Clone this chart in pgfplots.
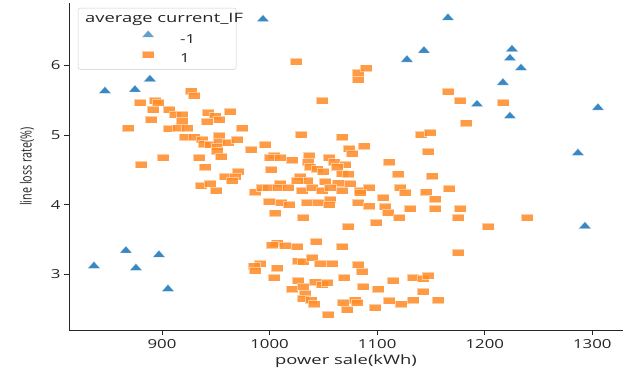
\documentclass[border=0pt]{standalone}
\usepackage{pgfplots}
\pgfplotsset{compat=1.18}
\usepackage{fontspec}
\setmainfont{Open Sans}[FakeStretch=1.35]
\newfontfamily\wfont{Open Sans}[FakeStretch=1.42]
\newfontfamily\ylfont{Open Sans}[FakeStretch=0.7]
\definecolor{tri}{HTML}{3A88C2}
\definecolor{sq}{HTML}{FF8A24}
\definecolor{ink}{HTML}{262626}
\begin{document}
\begin{tikzpicture}
\path[use as bounding box] (0,0) rectangle (627bp,372bp);
\begin{axis}[
  at={(69bp,42bp)}, anchor=south west,
  scale only axis, width=554bp, height=327bp,
  xmin=813.6, xmax=1328.5, ymin=2.202, ymax=6.894,
  axis x line*=bottom, axis y line*=left,
  axis line style={ink, line width=0.8bp},
  tick align=outside, major tick length=5bp,
  tick style={ink, line width=0.8bp},
  xtick={900,1000,1100,1200,1300}, ytick={3,4,5,6},
  minor tick num=0,
  /pgf/number format/assume math mode=true,
  /pgf/number format/1000 sep={},
  every tick label/.append style={font=\fontsize{12.5}{14}\selectfont, text=ink},
  xticklabel style={yshift=-1bp},
  xlabel={\wfont power sale(kWh)}, ylabel={{\ylfont line loss rate(\%)}},
  xlabel style={at={(axis description cs:0.5,-0.0948)}, anchor=center, font=\fontsize{13}{15}\selectfont, text=ink},
  ylabel style={at={(axis description cs:-0.076,0.5)}, anchor=center, rotate=0, font=\fontsize{15.5}{17}\selectfont, text=ink},
  legend style={at={(axis description cs:0.0162,0.985)}, anchor=north west,
    draw=black!20, rounded corners=2bp, fill=white, fill opacity=0.8, text opacity=1,
    inner xsep=3bp, inner ysep=3bp, row sep=4.5bp,
    font=\fontsize{12.5}{14}\selectfont, text=ink,
    nodes={inner sep=2bp}},
  legend cell align=left,
  legend image code/.code={\pgfpathmoveto{\pgfqpoint{0bp}{0bp}}\pgfpathlineto{\pgfqpoint{97bp}{0bp}}\pgfusepath{}\draw[#1,only marks] plot coordinates {(67bp,4.5bp)};},
]
\addlegendimage{empty legend}
\addlegendentry{\hspace*{-95bp}{\wfont\fontsize{13}{15}\selectfont average current\_IF}\hspace*{-12bp}}
\addplot[only marks, mark=triangle*, mark size=4.6bp, mark options={xscale=1.55, fill=tri, draw=white, line width=0.3bp, draw opacity=0.6}] table {
x y
847.0 5.63
874.9 5.65
888.8 5.80
993.9 6.66
1127.7 6.08
1143.5 6.21
1165.8 6.68
1225.3 6.23
1223.4 6.10
1233.7 5.96
1216.9 5.75
1192.8 5.44
1223.4 5.27
1305.2 5.39
1286.6 4.74
1293.1 3.69
836.8 3.12
866.5 3.34
875.8 3.09
897.2 3.28
905.6 2.79
};
\addlegendentry{-1}
\addplot[only marks, mark=square*, mark size=3.5bp, mark options={xscale=1.68, fill=sq, fill opacity=0.85, draw=white, draw opacity=0.5, line width=0.4bp}] table {
x y
868.4 5.10
879.6 5.46
880.5 4.57
893.5 5.49
896.3 5.46
891.6 5.36
889.8 5.22
906.5 5.36
912.1 5.29
918.6 5.29
927.0 5.63
929.7 5.57
906.5 5.09
914.9 5.10
923.2 5.10
918.6 5.20
942.8 5.32
949.3 5.27
953.0 5.22
941.8 5.19
963.2 5.33
921.4 4.97
929.7 4.97
937.2 4.93
939.0 4.87
944.6 4.86
953.0 4.99
953.0 4.91
951.1 4.83
951.1 4.77
961.3 4.89
969.7 4.93
974.3 5.10
900.9 4.67
934.4 4.67
954.8 4.69
940.0 4.54
970.6 4.48
958.6 4.40
967.9 4.40
965.1 4.35
936.2 4.27
944.6 4.30
950.2 4.20
1024.5 6.05
1082.2 5.89
1089.6 5.96
1082.2 5.80
1048.7 5.49
1029.2 5.01
995.7 4.86
982.7 4.79
1004.1 4.71
1000.4 4.67
1009.7 4.68
1020.8 4.64
1036.6 4.71
1035.7 4.61
1037.6 4.54
1044.1 4.51
1067.3 4.97
1073.8 4.81
1076.6 4.73
1087.7 4.84
1055.2 4.67
1059.9 4.61
1070.1 4.58
1062.6 4.54
1001.3 4.50
1049.6 4.47
1067.3 4.45
1072.9 4.44
1028.3 4.40
1034.8 4.35
1025.5 4.34
1051.5 4.33
1063.6 4.31
1074.7 4.30
986.4 4.18
992.9 4.25
998.5 4.25
1009.7 4.30
1007.8 4.24
1017.1 4.25
1030.1 4.20
1039.4 4.25
1048.7 4.20
1056.1 4.25
1067.3 4.20
1084.0 4.20
1092.4 4.25
1084.0 4.17
999.5 4.05
1010.6 4.03
1018.0 4.00
1034.8 4.03
1045.0 4.03
1056.1 4.07
1055.2 4.00
1082.2 4.03
1092.4 3.98
1005.0 3.88
1031.0 3.81
1072.9 3.68
1098.9 3.74
1165.8 5.62
1177.0 5.49
1216.9 5.46
1182.5 5.17
1140.7 5.01
1149.1 5.04
1147.2 4.76
1111.0 4.61
1119.3 4.44
1151.0 4.41
1121.2 4.25
1125.8 4.17
1145.4 4.18
1153.7 4.08
1166.7 4.23
1105.4 4.10
1107.3 3.97
1110.0 3.89
1130.5 3.94
1153.7 3.94
1177.0 3.94
1120.3 3.81
1175.1 3.81
1203.0 3.68
1239.2 3.82
1175.1 3.31
1006.9 3.45
1002.2 3.42
1014.3 3.41
1025.5 3.40
1043.1 3.47
1067.3 3.40
991.1 3.15
985.5 3.12
986.4 3.05
1006.9 3.09
1004.1 2.95
1026.4 3.19
1031.1 3.18
1039.4 3.24
1046.9 3.16
1058.0 3.15
1082.2 3.14
1085.9 3.04
1026.4 2.91
1020.8 2.79
1031.1 2.82
1032.9 2.73
1042.2 2.89
1048.7 2.85
1053.4 2.88
1069.2 2.95
1086.8 2.82
1100.8 2.79
1114.7 2.91
1133.3 2.95
1142.6 2.94
1147.2 2.98
1142.6 2.75
1031.1 2.65
1038.5 2.63
1041.3 2.575
1068.2 2.60
1071.9 2.50
1079.4 2.63
1081.2 2.60
1098.0 2.52
1111.0 2.62
1122.1 2.575
1133.3 2.63
1156.5 2.63
1054.3 2.42
};
\addlegendentry{1}
\end{axis}
\end{tikzpicture}
\end{document}
